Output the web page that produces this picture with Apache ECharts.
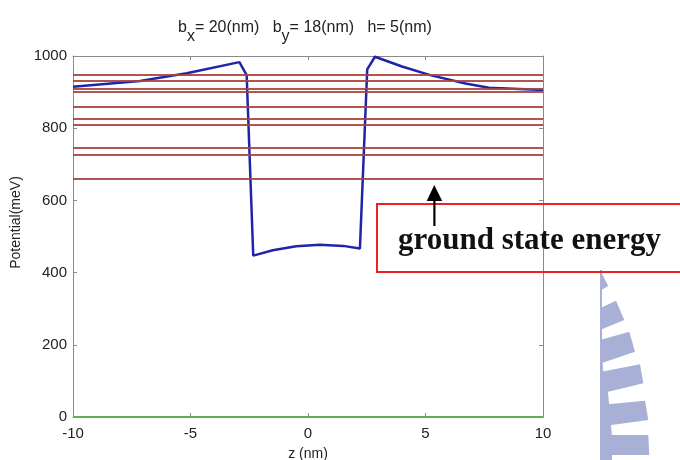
<!DOCTYPE html>
<html><head><meta charset="utf-8">
<script src="https://cdn.jsdelivr.net/npm/echarts@6/dist/echarts.min.js"></script>
<style>html,body{margin:0;padding:0;background:#fff}#c{width:680px;height:460px}</style>
</head><body><div id="c"></div>
<script>
// Potential profile along z (nm) -> meV
const zCurve = [-10, -7.15, -5.16, -2.92, -2.61, -2.33, -1.5, -0.5, 0.5, 1.5, 2.21, 2.52, 2.85, 4.0, 5.2, 6.7, 7.7, 10];
const vCurve = [915, 931, 952, 983, 947, 447, 462, 473, 477, 474, 467, 963, 998, 971, 947, 924, 912, 906];
// Energy levels (meV)
const energyLevels = [659, 726, 745, 809, 825, 860, 900, 908, 932, 947];
// Zero reference line
const zZero = [-10, 10];
const vZero = [0, 0];
const xTicks = [-10, -5, 0, 5, 10];
const yTicks = [0, 200, 400, 600, 800, 1000];

const chart = echarts.init(document.getElementById('c'));
const F = 'Liberation Sans, Arial, sans-serif';
const axisCommon = {
  axisLine: {show: true, onZero: false, lineStyle: {color: '#8a8a8a', width: 1}},
  axisTick: {show: true, inside: true, length: 4, lineStyle: {color: '#8a8a8a'}},
  splitLine: {show: false}
};
chart.setOption({
  animation: false,
  backgroundColor: '#fff',
  title: {
    text: '{t|b}{s|x}{t|= 20(nm)   b}{s|y}{t|= 18(nm)   h= 5(nm)}',
    left: 173, top: 15,
    textStyle: {
      fontWeight: 'normal',
      rich: {
        t: {fontFamily: F, fontSize: 16, fontWeight: 'normal', color: '#222', verticalAlign: 'top', lineHeight: 17},
        s: {fontFamily: F, fontSize: 16, fontWeight: 'normal', color: '#222', verticalAlign: 'top', padding: [9, 0, 0, 0], lineHeight: 17}
      }
    }
  },
  grid: {left: 73, right: 137, top: 56, bottom: 43, containLabel: false, outerBoundsMode: 'none'},
  xAxis: [
    Object.assign({type: 'value', min: -10, max: 10, interval: 5, position: 'bottom',
      name: 'z (nm)', nameLocation: 'middle', nameGap: 30,
      nameTextStyle: {fontFamily: F, fontSize: 14, color: '#222'},
      axisLabel: {fontFamily: F, fontSize: 15, color: '#222', margin: 9,
        formatter: v => xTicks.includes(v) ? String(v) : ''}}, axisCommon),
    Object.assign({type: 'value', min: -10, max: 10, interval: 5, position: 'top',
      axisLabel: {show: false}}, axisCommon)
  ],
  yAxis: [
    Object.assign({type: 'value', min: 0, max: 1000, interval: 200, position: 'left',
      name: 'Potential(meV)', nameLocation: 'middle', nameGap: 36,
      nameTextStyle: {fontFamily: F, fontSize: 14, color: '#222', padding: [0, 0, 0, 28]},
      axisLabel: {fontFamily: F, fontSize: 15, color: '#222', margin: 6,
        formatter: v => yTicks.includes(v) ? String(v) : ''}}, axisCommon),
    Object.assign({type: 'value', min: 0, max: 1000, interval: 200, position: 'right',
      axisLabel: {show: false}}, axisCommon)
  ],
  series: [
    {
      type: 'line', data: zZero.map((z, i) => [z, vZero[i]]), symbol: 'none',
      lineStyle: {color: '#5fae5a', width: 2}, z: 3,
      markLine: {
        silent: true, symbol: 'none', label: {show: false},
        lineStyle: {color: '#a8433e', width: 2, type: 'solid', opacity: 0.9},
        data: energyLevels.map(v => ({yAxis: v}))
      }
    },
    {
      type: 'line', data: zCurve.map((z, i) => [z, vCurve[i]]), symbol: 'none',
      lineStyle: {color: '#1f24a8', width: 2.5}, z: 4
    }
  ],
  graphic: [
    {type: 'rect', shape: {x: 377, y: 204, width: 320, height: 68},
      style: {fill: 'none', stroke: '#ee2020', lineWidth: 2}, z: 1},
    {type: 'text', left: 398, top: 225,
      style: {text: 'ground state energy', font: 'bold 31px "Liberation Serif", "Times New Roman", serif', fill: '#111'}, z: 10},
    {type: 'rect', shape: {x: 433.3, y: 198, width: 2.2, height: 28}, style: {fill: '#000'}, z: 10},
    {type: 'polygon', shape: {points: [[434.3, 185], [426.7, 201], [442.2, 201]]}, style: {fill: '#000'}, z: 10},
    // watermark fragment (decorative)
    {type: 'group', z: 0, children: [
      {type: 'polygon', shape: {points: [[600, 270], [602, 270], [602, 460], [600, 460]]}, style: {fill: '#a9b0d6'}},
      {type: 'polygon', shape: {points: [[600, 270], [608.3, 286], [600, 290.7]]}, style: {fill: '#a9b0d6'}},
      {type: 'polygon', shape: {points: [[600, 308.3], [616, 300.7], [624.3, 320], [600, 330]]}, style: {fill: '#a9b0d6'}},
      {type: 'polygon', shape: {points: [[600, 340], [629.3, 331.7], [635, 351.7], [602.7, 362.7], [600, 362.7]]}, style: {fill: '#a9b0d6'}},
      {type: 'polygon', shape: {points: [[600, 372], [640, 364.3], [643.3, 383.3], [608.3, 391.7], [600, 392]]}, style: {fill: '#a9b0d6'}},
      {type: 'polygon', shape: {points: [[600, 405], [645, 400.7], [648.3, 420], [611.7, 425], [600, 425]]}, style: {fill: '#a9b0d6'}},
      {type: 'polygon', shape: {points: [[600, 435], [648.3, 435], [649.3, 455], [612, 455], [612, 460], [600, 460]]}, style: {fill: '#a9b0d6'}},
      {type: 'polygon', shape: {points: [[600, 290], [603, 370], [608, 392], [611, 425], [612, 436], [600, 436]]}, style: {fill: '#a9b0d6'}}
    ]}
  ]
});
</script>
</body></html>
